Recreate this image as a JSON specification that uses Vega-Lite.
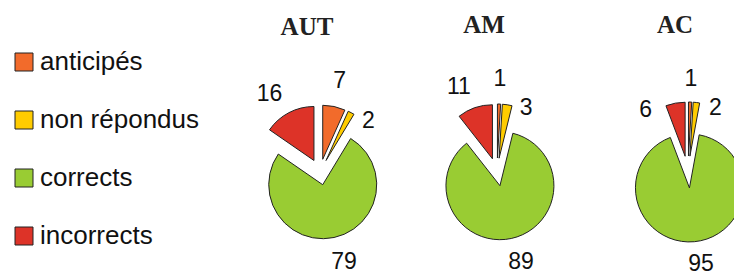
{
  "$schema": "https://vega.github.io/schema/vega-lite/v6.json",
  "padding": {"left": 11, "top": 13, "right": 0, "bottom": 0},
  "bounds": "flush",
  "spacing": 10,
  "config": {"view": {"stroke": null}, "font": "Liberation Sans"},
  "data": {"values": [
    {"group": "AUT", "category": "anticipés", "value": 7},
    {"group": "AUT", "category": "non répondus", "value": 2},
    {"group": "AUT", "category": "corrects", "value": 79},
    {"group": "AUT", "category": "incorrects", "value": 16},
    {"group": "AM", "category": "anticipés", "value": 1},
    {"group": "AM", "category": "non répondus", "value": 3},
    {"group": "AM", "category": "corrects", "value": 89},
    {"group": "AM", "category": "incorrects", "value": 11},
    {"group": "AC", "category": "anticipés", "value": 1},
    {"group": "AC", "category": "non répondus", "value": 2},
    {"group": "AC", "category": "corrects", "value": 95},
    {"group": "AC", "category": "incorrects", "value": 6}
  ]},
  "resolve": {"scale": {"theta": "shared", "color": "shared"}},
  "hconcat": [
    {
      "width": 64, "height": 200,
      "title": {"text": "AUT", "dx": -13, "offset": 10, "baseline": "alphabetic", "anchor": "middle", "fontSize": 25, "font": "Liberation Serif", "fontWeight": "bold", "color": "#222"},
      "transform": [
        {"filter": "datum.group === 'AUT'"},
        {"window": [{"op": "row_number", "as": "rank"}]},
        {"joinaggregate": [{"op": "sum", "field": "value", "as": "total"}]}
      ],
      "encoding": {
        "theta": {"field": "value", "type": "quantitative", "stack": true},
        "order": {"field": "rank", "type": "quantitative"}
      },
      "layer": [
        {
          "mark": {"type": "arc", "outerRadius": 54, "stroke": "#222", "strokeWidth": 1,
            "xOffset": {"expr": "13*sin(PI*(datum.value_start+datum.value_end)/datum.total)"},
            "yOffset": {"expr": "-13*cos(PI*(datum.value_start+datum.value_end)/datum.total)"}},
          "encoding": {
            "color": {"field": "category", "type": "nominal",
              "scale": {"domain": ["anticipés", "non répondus", "corrects", "incorrects"], "range": ["#F26B2B", "#FFCC00", "#99CC33", "#DD3328"]},
              "legend": {"orient": "none", "legendX": -277, "legendY": -23, "title": null, "padding": 0,
                "symbolType": "square", "symbolSize": 324, "symbolStrokeColor": "#222", "symbolStrokeWidth": 1,
                "labelFontSize": 26, "labelFont": "Liberation Sans", "labelColor": "#111", "labelOffset": 3, "rowPadding": 32, "labelLimit": 300}}
          }
        },
        {
          "mark": {"type": "text", "fontSize": 23, "font": "Liberation Sans", "color": "#111",
            "radius": {"expr": "datum.category === 'non répondus' ? 70 : (datum.category === 'incorrects' && datum.value < 10 ? 75 : 93)"},
            "thetaOffset": {"expr": "datum.category === 'non répondus' ? 0.28 : (datum.category === 'incorrects' ? (datum.value < 10 ? -0.42 : -0.09) : (datum.category === 'corrects' ? -0.05 : 0))"}},
          "encoding": {"text": {"field": "value", "type": "quantitative"}}
        }
      ]
    },
    {
      "width": 270, "height": 200,
      "title": {"text": "AM", "dx": -13, "offset": 10, "baseline": "alphabetic", "anchor": "middle", "fontSize": 25, "font": "Liberation Serif", "fontWeight": "bold", "color": "#222"},
      "transform": [
        {"filter": "datum.group === 'AM'"},
        {"window": [{"op": "row_number", "as": "rank"}]},
        {"joinaggregate": [{"op": "sum", "field": "value", "as": "total"}]}
      ],
      "encoding": {
        "theta": {"field": "value", "type": "quantitative", "stack": true},
        "order": {"field": "rank", "type": "quantitative"}
      },
      "layer": [
        {
          "mark": {"type": "arc", "outerRadius": 54, "stroke": "#222", "strokeWidth": 1,
            "xOffset": {"expr": "14*sin(PI*(datum.value_start+datum.value_end)/datum.total)"},
            "yOffset": {"expr": "-14*cos(PI*(datum.value_start+datum.value_end)/datum.total)"}},
          "encoding": {
            "color": {"field": "category", "type": "nominal",
              "scale": {"domain": ["anticipés", "non répondus", "corrects", "incorrects"], "range": ["#F26B2B", "#FFCC00", "#99CC33", "#DD3328"]},
              "legend": {"orient": "none", "legendX": -277, "legendY": -23, "title": null, "padding": 0,
                "symbolType": "square", "symbolSize": 324, "symbolStrokeColor": "#222", "symbolStrokeWidth": 1,
                "labelFontSize": 26, "labelFont": "Liberation Sans", "labelColor": "#111", "labelOffset": 3, "rowPadding": 32, "labelLimit": 300}}
          }
        },
        {
          "mark": {"type": "text", "fontSize": 23, "font": "Liberation Sans", "color": "#111",
            "radius": {"expr": "datum.category === 'non répondus' ? 70 : (datum.category === 'incorrects' && datum.value < 10 ? 75 : 93)"},
            "thetaOffset": {"expr": "datum.category === 'non répondus' ? 0.28 : (datum.category === 'incorrects' ? (datum.value < 10 ? -0.42 : -0.09) : (datum.category === 'corrects' ? -0.05 : 0))"}},
          "encoding": {"text": {"field": "value", "type": "quantitative"}}
        }
      ]
    },
    {
      "width": 92, "height": 200,
      "title": {"text": "AC", "dx": -13, "offset": 10, "baseline": "alphabetic", "anchor": "middle", "fontSize": 25, "font": "Liberation Serif", "fontWeight": "bold", "color": "#222"},
      "transform": [
        {"filter": "datum.group === 'AC'"},
        {"window": [{"op": "row_number", "as": "rank"}]},
        {"joinaggregate": [{"op": "sum", "field": "value", "as": "total"}]}
      ],
      "encoding": {
        "theta": {"field": "value", "type": "quantitative", "stack": true},
        "order": {"field": "rank", "type": "quantitative"}
      },
      "layer": [
        {
          "mark": {"type": "arc", "outerRadius": 54, "stroke": "#222", "strokeWidth": 1,
            "xOffset": {"expr": "16*sin(PI*(datum.value_start+datum.value_end)/datum.total)"},
            "yOffset": {"expr": "-16*cos(PI*(datum.value_start+datum.value_end)/datum.total)"}},
          "encoding": {
            "color": {"field": "category", "type": "nominal",
              "scale": {"domain": ["anticipés", "non répondus", "corrects", "incorrects"], "range": ["#F26B2B", "#FFCC00", "#99CC33", "#DD3328"]},
              "legend": {"orient": "none", "legendX": -277, "legendY": -23, "title": null, "padding": 0,
                "symbolType": "square", "symbolSize": 324, "symbolStrokeColor": "#222", "symbolStrokeWidth": 1,
                "labelFontSize": 26, "labelFont": "Liberation Sans", "labelColor": "#111", "labelOffset": 3, "rowPadding": 32, "labelLimit": 300}}
          }
        },
        {
          "mark": {"type": "text", "fontSize": 23, "font": "Liberation Sans", "color": "#111",
            "radius": {"expr": "datum.category === 'non répondus' ? 70 : (datum.category === 'incorrects' && datum.value < 10 ? 75 : 93)"},
            "thetaOffset": {"expr": "datum.category === 'non répondus' ? 0.28 : (datum.category === 'incorrects' ? (datum.value < 10 ? -0.42 : -0.09) : (datum.category === 'corrects' ? -0.05 : 0))"}},
          "encoding": {"text": {"field": "value", "type": "quantitative"}}
        }
      ]
    }
  ]
}
